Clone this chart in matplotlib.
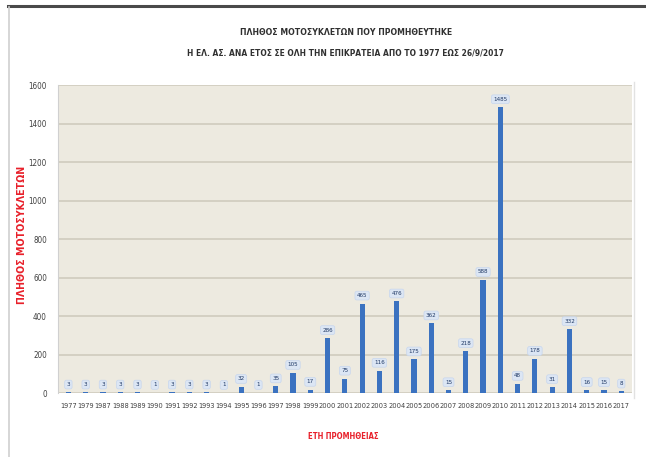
import matplotlib
matplotlib.use("Agg")
import matplotlib.pyplot as plt
from matplotlib.lines import Line2D
from matplotlib import font_manager

years = ["1977", "1979", "1987", "1988", "1989", "1990", "1991", "1992", "1993", "1994",
         "1995", "1996", "1997", "1998", "1999", "2000", "2001", "2002", "2003", "2004",
         "2005", "2006", "2007", "2008", "2009", "2010", "2011", "2012", "2013", "2014",
         "2015", "2016", "2017"]
counts = [3, 3, 3, 3, 3, 1, 3, 3, 3, 1,
          32, 1, 35, 105, 17, 286, 75, 465, 116, 476,
          175, 362, 15, 218, 588, 1485, 48, 178, 31, 332,
          16, 15, 8]
y_ticks = [0, 200, 400, 600, 800, 1000, 1200, 1400, 1600]

title_lines = ["ΠΛΗΘΟΣ ΜΟΤΟΣΥΚΛΕΤΩΝ ΠΟΥ ΠΡΟΜΗΘΕΥΤΗΚΕ",
               "Η ΕΛ. ΑΣ. ΑΝΑ ΕΤΟΣ ΣΕ ΟΛΗ ΤΗΝ ΕΠΙΚΡΑΤΕΙΑ ΑΠΟ ΤΟ 1977 ΕΩΣ 26/9/2017"]
y_title = "ΠΛΗΘΟΣ ΜΟΤΟΣΥΚΛΕΤΩΝ"
x_title = "ΕΤΗ ΠΡΟΜΗΘΕΙΑΣ"

names = {f.name for f in font_manager.fontManager.ttflist}
narrow = "Liberation Sans Narrow" if "Liberation Sans Narrow" in names else "DejaVu Sans"
plt.rcParams["font.family"] = [narrow, "DejaVu Sans"]
plt.rcParams["font.stretch"] = "condensed"

fig = plt.figure(figsize=(6.46, 4.57), dpi=100, facecolor="white")
ax = fig.add_axes([0.0898, 0.140, 0.888, 0.674])
ax.set_facecolor("#EDEAE0")

x = list(range(len(years)))
ax.bar(x, counts, width=0.3, color="#3B72C0", zorder=3)

for xi, v in zip(x, counts):
    ax.text(xi, v + 28, str(v), ha="center", va="bottom", fontsize=4.5,
            stretch="condensed", color="#1F3864", zorder=4,
            bbox=dict(boxstyle="round,pad=0.3", fc="#DCE6F4", ec="#C7D6EE", lw=0.5))

ax.set_xlim(-0.6, len(years) - 0.4)
ax.set_ylim(0, 1600)
ax.set_yticks(y_ticks)
ax.set_xticks(x)
ax.set_xticklabels(years, fontsize=5.3, color="#404040", stretch="condensed")
for lab in ax.get_yticklabels():
    lab.set_stretch("condensed")
ax.tick_params(axis="y", labelsize=5.8, colors="#404040", length=0, pad=8)
ax.tick_params(axis="x", length=0, pad=7)
ax.yaxis.grid(True, color="#CFCBBE", lw=1.2, zorder=0)
ax.set_axisbelow(True)
for s in ["top", "right", "bottom"]:
    ax.spines[s].set_visible(False)
ax.spines["left"].set_color("#D0D0D0")

fig.text(0.535, 0.928, title_lines[0], ha="center", va="center",
         fontsize=6.2, fontweight="bold", stretch="condensed", color="#303030")
fig.text(0.535, 0.884, title_lines[1], ha="center", va="center",
         fontsize=6.0, fontweight="bold", stretch="condensed", color="#303030")
fig.text(0.034, 0.485, y_title, rotation=90, ha="center", va="center",
         fontsize=7.6, fontweight="bold", stretch="condensed", color="#E8202A")
fig.text(0.531, 0.044, x_title, ha="center", va="center",
         fontsize=5.6, fontweight="bold", stretch="condensed", color="#E8202A")

# outer frame
fig.add_artist(Line2D([0.013, 1.0], [0.987, 0.987], transform=fig.transFigure,
                      color="#4A4A4A", lw=2.2))
fig.add_artist(Line2D([0.014, 0.014], [0.0, 0.985], transform=fig.transFigure,
                      color="#CFCFCF", lw=1.2))
fig.add_artist(Line2D([0.981, 0.981], [0.13, 0.82], transform=fig.transFigure,
                      color="#E2E2E2", lw=1.0))

fig.savefig("out.png", dpi=100, facecolor="white")
